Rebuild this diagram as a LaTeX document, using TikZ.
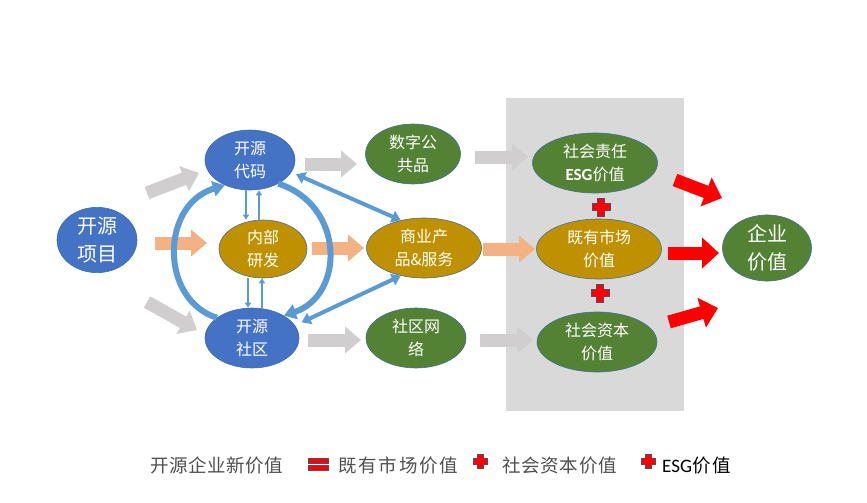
\documentclass[tikz,border=0pt]{standalone}
\usepackage{fontspec}
\setmainfont{Noto Sans CJK SC}
\newfontfamily\lat{Carlito}
\usetikzlibrary{shapes.geometric,arrows.meta,calc}
\definecolor{cblue}{HTML}{4472C4}
\definecolor{cgold}{HTML}{BF9000}
\definecolor{cgreen}{HTML}{548235}
\definecolor{cedge}{HTML}{41719C}
\definecolor{cgray}{HTML}{D0CECE}
\definecolor{corange}{HTML}{F4B183}
\definecolor{clblue}{HTML}{5B9BD5}
\definecolor{cbox}{HTML}{D9D9D9}
\definecolor{ctext}{HTML}{505050}
\definecolor{cpedge}{HTML}{5A4A6A}
\tikzset{
  ell/.style={ellipse, draw=cedge, line width=0.6pt, fill=#1, text=white, align=center, inner sep=0pt,
     font=\fontsize{16}{23}\selectfont},
  blk/.style={draw=#1, line width=13pt, -{Triangle[length=16pt,width=26pt,fill=#1]}},
  rblk/.style={draw=red, line width=13pt, -{Triangle[length=17pt,width=30pt,fill=red]}},
  curv/.style={draw=clblue, line width=6pt, -{Triangle[length=12pt,width=15pt]}},
  dbl/.style={draw=clblue, line width=4pt, {Triangle[length=9pt,width=12pt]}-{Triangle[length=9pt,width=12pt]}},
  thin/.style={draw=clblue, line width=2pt, -{Triangle[length=5pt,width=6pt]}},
  pluss/.style={fill=red, draw=cpedge, line width=0.6pt},
  legend/.style={anchor=base west, text=ctext, inner sep=0pt, font=\fontsize{18.5}{20}\selectfont}
}
\newcommand\crossat[3]{% center x,y ; half length ; half width
  \path[pluss] ($(#1)+(-#2,-#3)$) -- ++(#2-#3,0) -- ++(0,-#2+#3) -- ++(2*#3,0) -- ++(0,#2-#3) -- ++(#2-#3,0)
   -- ++(0,2*#3) -- ++(-#2+#3,0) -- ++(0,#2-#3) -- ++(-2*#3,0) -- ++(0,-#2+#3) -- ++(-#2+#3,0) -- cycle;}
\begin{document}
\begin{tikzpicture}[x=1pt,y=-1pt]
\useasboundingbox[fill=white] (0,0) rectangle (867,503);
\fill[cbox] (506,98) rectangle (684,411);

% nodes
\node[ell=cblue, minimum width=80pt, minimum height=62pt, font=\fontsize{20}{28}\selectfont] (xm) at (97,240) {开源\\项目};
\node[ell=cblue, minimum width=90pt, minimum height=60pt] (dm) at (250,160) {开源\\代码};
\node[ell=cgold, minimum width=88pt, minimum height=58pt] (yf) at (263,249) {内部\\研发};
\node[ell=cblue, minimum width=94pt, minimum height=60pt] (sq) at (252,338) {开源\\社区};
\node[ell=cgreen, minimum width=95pt, minimum height=60pt] (gg) at (413,154) {数字公\\共品};
\node[ell=cgold, minimum width=115pt, minimum height=60pt] (sy) at (424,248) {商业产\\品\&服务};
\node[ell=cgreen, minimum width=100pt, minimum height=60pt] (wl) at (416,338) {社区网\\络};
\node[ell=cgreen, minimum width=125pt, minimum height=60pt] (esg) at (595,163) {社会责任\\{\lat\bfseries\fontsize{17}{22}\selectfont ESG}价值};
\node[ell=cgold, minimum width=125pt, minimum height=60pt] (sc) at (599,249) {既有市场\\价值};
\node[ell=cgreen, minimum width=120pt, minimum height=60pt] (zb) at (597,342) {社会资本\\价值};
\node[ell=cgreen, minimum width=89pt, minimum height=60pt, font=\fontsize{20}{28}\selectfont] (qy) at (767,248) {企业\\价值};

% free ends of the block arrows
\coordinate (a1s) at (147,193); \coordinate (a1e) at (199,173);
\coordinate (a2s) at (147,302); \coordinate (a2e) at (197,330);
\coordinate (a3s) at (155,243); \coordinate (a3e) at (207,243);
\coordinate (a4s) at (305,164); \coordinate (a4e) at (357,164);
\coordinate (a5s) at (312,248); \coordinate (a5e) at (364,248);
\coordinate (a6s) at (308,340); \coordinate (a6e) at (361,340);
\coordinate (a7s) at (475,157); \coordinate (a7e) at (528,157);
\coordinate (a8s) at (483,249); \coordinate (a8e) at (535,249);
\coordinate (a9s) at (480,340); \coordinate (a9e) at (533,340);
\coordinate (r1s) at (675,180); \coordinate (r1e) at (722,198);
\coordinate (r2s) at (668,253); \coordinate (r2e) at (719,253);
\coordinate (r3s) at (669,322); \coordinate (r3e) at (718,308);

\draw[blk=cgray] (a1s) -- (a1e);
\draw[blk=cgray] (a2s) -- (a2e);
\draw[blk=corange] (a3s) -- (a3e);
\draw[blk=cgray] (a4s) -- (a4e);
\draw[blk=corange] (a5s) -- (a5e);
\draw[blk=cgray] (a6s) -- (a6e);
\draw[blk=cgray] (a7s) -- (a7e);
\draw[blk=corange] (a8s) -- (a8e);
\draw[blk=cgray] (a9s) -- (a9e);
\draw[rblk] (r1s) -- (r1e);
\draw[rblk] (r2s) -- (r2e);
\draw[rblk] (r3s) -- (r3e);

% thin vertical arrows
\draw[thin] ([xshift=-4pt]dm.south) -- ([xshift=-17pt]yf.north);
\draw[thin] ([xshift=-4pt]yf.north) -- ([xshift=9pt]dm.south);
\draw[thin] ([xshift=-15pt]yf.south) -- ([xshift=-4pt]sq.north);
\draw[thin] ([xshift=10pt]sq.north) -- ([xshift=-1pt]yf.south);

% curved arrows
\draw[curv] (sq.150) .. controls (160,300) and (160,205) .. (dm.225);
\draw[curv] (dm.-40) .. controls (345,205) and (345,295) .. (sq.35);

% diagonal double arrows
\draw[dbl] ([shift={(4pt,-3pt)}]dm.-15) -- (sy.130);
\draw[dbl] (sy.-130) -- ([shift={(6pt,4pt)}]sq.15);

% plus signs
\crossat{601,207}{9}{3.5}
\crossat{600,293}{9}{3.5}

% legend
\node[legend] (l1) at (150,472) {\addfontfeature{LetterSpace=3}开源企业新价值};
\path[pluss] (308,458) rectangle (328,463);
\path[pluss] (308,465) rectangle (328,470);
\node[legend] (l2) at (338,472) {\addfontfeature{LetterSpace=10}既有市场价值};
\crossat{480,461}{7}{2.8}
\node[legend] (l3) at (502,472) {\addfontfeature{LetterSpace=4}社会资本价值};
\crossat{648,461}{7}{2.8}
\node[legend, text=black] (l4) at (662,472) {{\lat\fontsize{19}{20}\selectfont ESG}\addfontfeature{LetterSpace=10}价值};
\end{tikzpicture}
\end{document}
